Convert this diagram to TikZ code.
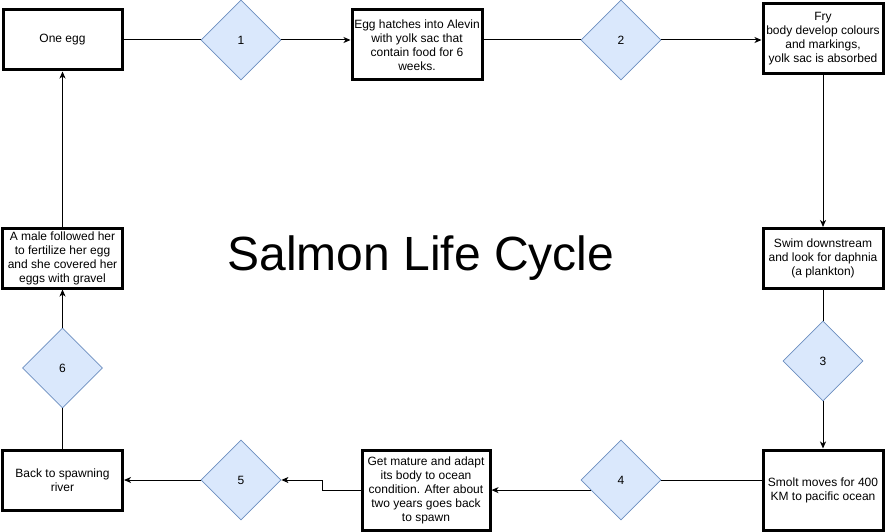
\documentclass[tikz,border=0pt]{standalone}
\usepackage{fontspec}
\setmainfont{Liberation Sans}
\usetikzlibrary{shapes.geometric,arrows.meta,calc}
\definecolor{dfill}{HTML}{DAE8FC}
\definecolor{dline}{HTML}{6C8EBF}
\begin{document}
\begin{tikzpicture}[x=1pt,y=-1pt,
  stagebox/.style={draw=black,line width=3pt,fill=white,rectangle,inner sep=0pt,align=center,
    font=\fontsize{12}{14}\selectfont},
  stepdia/.style={draw=dline,line width=0.8pt,fill=dfill,diamond,aspect=1,minimum width=80pt,minimum height=80pt,inner sep=0pt,
    font=\fontsize{12}{14}\selectfont},
  conn/.style={draw=black,line width=1pt},
  arr/.style={conn,-{Stealth[length=7pt,width=6pt,inset=2pt]}}]
\useasboundingbox (0,0) rectangle (885,532);
% boxes
\node[stagebox,minimum width=119pt,minimum height=60pt] (egg) at (62.5,40) {One egg};
\node[stagebox,minimum width=130pt,minimum height=70pt] (alevin) at (417,45) {Egg hatches into Alevin\\with yolk sac that\\contain food for 6\\weeks.};
\node[stagebox,minimum width=120pt,minimum height=70pt] (fry) at (823,39) {Fry\\body develop colours\\and markings,\\yolk sac is absorbed};
\node[stagebox,minimum width=120pt,minimum height=60pt] (swim) at (823,258.5) {Swim downstream\\and look for daphnia\\(a plankton)};
\node[stagebox,minimum width=120pt,minimum height=80pt] (smolt) at (823,490) {Smolt moves for 400\\KM to pacific ocean};
\node[stagebox,minimum width=128pt,minimum height=80pt] (mature) at (426,490) {Get mature and adapt\\its body to ocean\\condition. After about\\two years goes back\\to spawn};
\node[stagebox,minimum width=120pt,minimum height=60pt] (back) at (62.5,480) {Back to spawning\\river};
\node[stagebox,minimum width=120pt,minimum height=60pt] (male) at (62.5,258) {A male followed her\\to fertilize her egg\\and she covered her\\eggs with gravel};
% diamonds
\node[stepdia] (d1) at (241,40) {1};
\node[stepdia] (d2) at (621,40) {2};
\node[stepdia] (d3) at (823,361) {3};
\node[stepdia] (d4) at (621,480) {4};
\node[stepdia] (d5) at (241,480) {5};
\node[stepdia] (d6) at (62.5,368) {6};
% title
\node[font=\fontsize{48}{56}\selectfont] (title) at (421,258) {Salmon Life Cycle};
% connectors
\draw[conn] (egg.east) -- (d1.west);
\draw[arr] (d1.east) -- (d1.east -| alevin.west);
\draw[conn] (alevin.east |- d2.west) -- (d2.west);
\draw[arr] (d2.east) -- (d2.east -| fry.west);
\draw[arr] (fry.south) -- (swim.north);
\draw[conn] (swim.south) -- (d3.north);
\draw[arr] (d3.south) -- (smolt.north);
\draw[conn] (smolt.west |- d4.east) -- (d4.east);
\coordinate (d4edge) at ($(d4.west)!0.25!(d4.south)$);
\draw[arr] (d4edge) -- (d4edge -| mature.east);
\coordinate (bend) at (322,490);
\draw[arr] (mature.west) -- (bend) -- (bend |- d5.east) -- (d5.east);
\draw[arr] (d5.west) -- (d5.west -| back.east);
\draw[conn] (back.north) -- (d6.south);
\draw[arr] (d6.north) -- (male.south);
\draw[arr] (male.north) -- (egg.south);
\end{tikzpicture}
\end{document}
